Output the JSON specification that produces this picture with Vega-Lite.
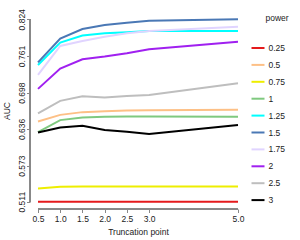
{
  "$schema": "https://vega.github.io/schema/vega-lite/v6.json",
  "width": 216,
  "height": 197,
  "autosize": {"type": "none"},
  "padding": {"left": 30, "top": 12, "right": 54, "bottom": 31},
  "background": "white",
  "config": {
    "view": {"stroke": null},
    "font": "Liberation Sans",
    "axis": {"grid": false, "domain": false, "tickColor": "#888888", "tickSize": 3.5, "labelColor": "#222222", "titleColor": "#222222", "labelFontSize": 8.5, "titleFontSize": 8.5, "titleFontWeight": "normal", "labelFont": "Liberation Sans", "titleFont": "Liberation Sans", "labelOverlap": false}
  },
  "data": {"values": [
    {"power": "0.25", "t": 0.5, "auc": 0.5108}, {"power": "0.25", "t": 1.0, "auc": 0.5108}, {"power": "0.25", "t": 1.5, "auc": 0.5108}, {"power": "0.25", "t": 2.0, "auc": 0.5108}, {"power": "0.25", "t": 2.5, "auc": 0.5108}, {"power": "0.25", "t": 3.0, "auc": 0.5108}, {"power": "0.25", "t": 5.0, "auc": 0.5108},
    {"power": "0.5", "t": 0.5, "auc": 0.6486}, {"power": "0.5", "t": 1.0, "auc": 0.660}, {"power": "0.5", "t": 1.5, "auc": 0.6647}, {"power": "0.5", "t": 2.0, "auc": 0.6664}, {"power": "0.5", "t": 2.5, "auc": 0.6674}, {"power": "0.5", "t": 3.0, "auc": 0.668}, {"power": "0.5", "t": 5.0, "auc": 0.6686},
    {"power": "0.75", "t": 0.5, "auc": 0.5336}, {"power": "0.75", "t": 1.0, "auc": 0.5365}, {"power": "0.75", "t": 1.5, "auc": 0.537}, {"power": "0.75", "t": 2.0, "auc": 0.537}, {"power": "0.75", "t": 2.5, "auc": 0.537}, {"power": "0.75", "t": 3.0, "auc": 0.537}, {"power": "0.75", "t": 5.0, "auc": 0.537},
    {"power": "1", "t": 0.5, "auc": 0.6304}, {"power": "1", "t": 1.0, "auc": 0.651}, {"power": "1", "t": 1.5, "auc": 0.6554}, {"power": "1", "t": 2.0, "auc": 0.6566}, {"power": "1", "t": 2.5, "auc": 0.657}, {"power": "1", "t": 3.0, "auc": 0.657}, {"power": "1", "t": 5.0, "auc": 0.6566},
    {"power": "1.25", "t": 0.5, "auc": 0.7457}, {"power": "1.25", "t": 1.0, "auc": 0.784}, {"power": "1.25", "t": 1.5, "auc": 0.796}, {"power": "1.25", "t": 2.0, "auc": 0.800}, {"power": "1.25", "t": 2.5, "auc": 0.8017}, {"power": "1.25", "t": 3.0, "auc": 0.804}, {"power": "1.25", "t": 5.0, "auc": 0.804},
    {"power": "1.5", "t": 0.5, "auc": 0.750}, {"power": "1.5", "t": 1.0, "auc": 0.7908}, {"power": "1.5", "t": 1.5, "auc": 0.8074}, {"power": "1.5", "t": 2.0, "auc": 0.8142}, {"power": "1.5", "t": 2.5, "auc": 0.818}, {"power": "1.5", "t": 3.0, "auc": 0.8216}, {"power": "1.5", "t": 5.0, "auc": 0.824},
    {"power": "1.75", "t": 0.5, "auc": 0.7286}, {"power": "1.75", "t": 1.0, "auc": 0.7783}, {"power": "1.75", "t": 1.5, "auc": 0.7868}, {"power": "1.75", "t": 2.0, "auc": 0.794}, {"power": "1.75", "t": 2.5, "auc": 0.800}, {"power": "1.75", "t": 3.0, "auc": 0.804}, {"power": "1.75", "t": 5.0, "auc": 0.8113},
    {"power": "2", "t": 0.5, "auc": 0.7046}, {"power": "2", "t": 1.0, "auc": 0.7394}, {"power": "2", "t": 1.5, "auc": 0.7555}, {"power": "2", "t": 2.0, "auc": 0.760}, {"power": "2", "t": 2.5, "auc": 0.7658}, {"power": "2", "t": 3.0, "auc": 0.7726}, {"power": "2", "t": 5.0, "auc": 0.7856},
    {"power": "2.5", "t": 0.5, "auc": 0.6627}, {"power": "2.5", "t": 1.0, "auc": 0.684}, {"power": "2.5", "t": 1.5, "auc": 0.692}, {"power": "2.5", "t": 2.0, "auc": 0.6897}, {"power": "2.5", "t": 2.5, "auc": 0.6925}, {"power": "2.5", "t": 3.0, "auc": 0.694}, {"power": "2.5", "t": 5.0, "auc": 0.7144},
    {"power": "3", "t": 0.5, "auc": 0.6298}, {"power": "3", "t": 1.0, "auc": 0.6384}, {"power": "3", "t": 1.5, "auc": 0.6413}, {"power": "3", "t": 2.0, "auc": 0.634}, {"power": "3", "t": 2.5, "auc": 0.631}, {"power": "3", "t": 3.0, "auc": 0.627}, {"power": "3", "t": 5.0, "auc": 0.6425}
  ]},
  "layer": [
    {
      "mark": {"type": "line", "strokeWidth": 2},
      "encoding": {
        "x": {"field": "t", "type": "quantitative", "title": "Truncation point",
              "scale": {"domain": [0.32, 5.18], "nice": false, "zero": false},
              "axis": {"values": [0.5, 1.0, 1.5, 2.0, 2.5, 3.0, 5.0], "format": ".1f", "labelPadding": 2, "titlePadding": 4, "labelOverlap": false, "labelFlush": false, "labelBound": false}},
        "y": {"field": "auc", "type": "quantitative", "title": "AUC",
              "scale": {"domain": [0.4985, 0.8365], "nice": false, "zero": false},
              "axis": {"values": [0.511, 0.573, 0.636, 0.698, 0.761, 0.824], "format": ".3f", "labelAngle": 270, "labelAlign": "center", "labelBaseline": "bottom", "labelPadding": 0, "titlePadding": 6, "labelOverlap": false, "labelFlush": false, "labelBound": false}},
        "color": {"field": "power", "type": "nominal", "title": "power",
          "scale": {"domain": ["0.25", "0.5", "0.75", "1", "1.25", "1.5", "1.75", "2", "2.5", "3"],
                    "range": ["#E41A1C", "#FDC086", "#EEEE00", "#7FC97F", "#00FFFF", "#4A78B5", "#E0D4FF", "#A020F0", "#BEBEBE", "#000000"]},
          "legend": {"orient": "none", "legendX": 220.5, "legendY": 2, "symbolType": "stroke", "symbolSize": 169, "symbolStrokeWidth": 2, "labelFontSize": 8.5, "titleFontSize": 8.5, "titleFontWeight": "normal", "labelColor": "#222222", "titleColor": "#222222", "labelOffset": 3, "rowPadding": 4.9, "titlePadding": 18, "titleFont": "Liberation Sans", "labelFont": "Liberation Sans",
            "encode": {"title": {"update": {"dx": {"value": 15}}}}}
        },
        "order": {"field": "power"}
      }
    },
    {
      "mark": {"type": "rule", "color": "#888888", "strokeWidth": 1},
      "encoding": {
        "x": {"datum": 0.5, "type": "quantitative", "title": "Truncation point",
              "axis": {"values": [0.5, 1.0, 1.5, 2.0, 2.5, 3.0, 5.0], "format": ".1f", "labelPadding": 2, "titlePadding": 4, "labelOverlap": false, "labelFlush": false, "labelBound": false}},
        "x2": {"datum": 5.0},
        "y": {"datum": 0.4985, "type": "quantitative", "title": "AUC",
              "axis": {"values": [0.511, 0.573, 0.636, 0.698, 0.761, 0.824], "format": ".3f", "labelAngle": 270, "labelAlign": "center", "labelBaseline": "bottom", "labelPadding": 0, "titlePadding": 6, "labelOverlap": false, "labelFlush": false, "labelBound": false}}
      }
    },
    {
      "mark": {"type": "rule", "color": "#888888", "strokeWidth": 1},
      "encoding": {
        "x": {"datum": 0.32, "type": "quantitative", "title": "Truncation point",
              "axis": {"values": [0.5, 1.0, 1.5, 2.0, 2.5, 3.0, 5.0], "format": ".1f", "labelPadding": 2, "titlePadding": 4, "labelOverlap": false, "labelFlush": false, "labelBound": false}},
        "y": {"datum": 0.511, "type": "quantitative", "title": "AUC",
              "axis": {"values": [0.511, 0.573, 0.636, 0.698, 0.761, 0.824], "format": ".3f", "labelAngle": 270, "labelAlign": "center", "labelBaseline": "bottom", "labelPadding": 0, "titlePadding": 6, "labelOverlap": false, "labelFlush": false, "labelBound": false}},
        "y2": {"datum": 0.824}
      }
    }
  ]
}
